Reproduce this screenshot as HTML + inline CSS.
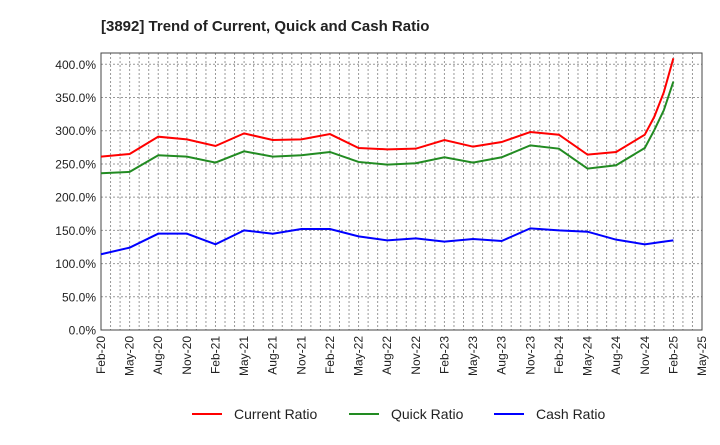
<!DOCTYPE html>
<html><head><meta charset="utf-8">
<style>
body{margin:0;background:#fff;font-family:"Liberation Sans",Arial,sans-serif;}
svg text{font-family:"Liberation Sans",Arial,sans-serif;}
</style></head>
<body>
<svg id="chart" width="720" height="440" viewBox="0 0 720 440" xmlns="http://www.w3.org/2000/svg">
<text x="101" y="31" font-size="15" font-weight="bold" fill="#222">[3892]  Trend of Current, Quick and Cash Ratio</text>
<g id="grid"></g><g id="axes"></g><g id="series"></g>
<g>
<line x1="192" y1="414" x2="222" y2="414" stroke="#ff0000" stroke-width="2"/><text x="234" y="419" font-size="14" fill="#222">Current Ratio</text>
<line x1="349" y1="414" x2="379" y2="414" stroke="#228b22" stroke-width="2"/><text x="391" y="419" font-size="14" fill="#222">Quick Ratio</text>
<line x1="494" y1="414" x2="524" y2="414" stroke="#0000ff" stroke-width="2"/><text x="536" y="419" font-size="14" fill="#222">Cash Ratio</text>
</g>
</svg>
<script>
const months=[0,3,6,9,12,15,18,21,24,27,30,33,36,39,42,45,48,51,54,57,58,59,60];
const currentRatio=[261,265,291,287,277,296,286,287,295,274,272,273,286,276,283,298,294,264,268,294,321,358,409];
const quickRatio=[236,238,263,261,252,269,261,263,268,253,249,251,260,252,260,278,273,243,248,274,301,331,374];
const cashRatio=[114,124,145,145,129,150,145,152,152,141,135,138,133,137,134,153,150,148,136,129,131,133,135];
const xLabels=["Feb-20","May-20","Aug-20","Nov-20","Feb-21","May-21","Aug-21","Nov-21","Feb-22","May-22","Aug-22","Nov-22","Feb-23","May-23","Aug-23","Nov-23","Feb-24","May-24","Aug-24","Nov-24","Feb-25","May-25"];
const yTicks=[0,50,100,150,200,250,300,350,400];
const L=101,R=702,T=53,B=330;
const xs=m=>L+m*(R-L)/63;
const ys=v=>B-v*(B-64.3)/400;
const NS="http://www.w3.org/2000/svg";
function mk(t,a,p){const e=document.createElementNS(NS,t);for(const k in a)e.setAttribute(k,a[k]);p.appendChild(e);return e;}
const grid=document.getElementById('grid'),axes=document.getElementById('axes'),ser=document.getElementById('series');
for(let m=1;m<63;m++){const g=mk('line',{x1:xs(m),x2:xs(m),y1:T,y2:B,stroke:'#999','stroke-width':1,'stroke-dasharray':'2,2'},grid);

}
yTicks.forEach(v=>{const y=ys(v);
const g=mk('line',{x1:L,x2:R,y1:y,y2:y,stroke:'#999','stroke-width':1,'stroke-dasharray':'2,2'},grid);


const t=mk('text',{x:L-5,y:y+4.5,'font-size':12,'text-anchor':'end',fill:'#222'},axes);t.textContent=v.toFixed(1)+'%';

});
xLabels.forEach((s,i)=>{const x=xs(i*3);
const t=mk('text',{transform:`translate(${x+4},${B+6}) rotate(-90)`,'font-size':12,'text-anchor':'end',fill:'#222'},axes);t.textContent=s;

});
const f=mk('rect',{x:L,y:T,width:R-L,height:B-T,fill:'none',stroke:'#444','stroke-width':1},axes);


[[currentRatio,'#ff0000','current-ratio-line'],[quickRatio,'#228b22','quick-ratio-line'],[cashRatio,'#0000ff','cash-ratio-line']].forEach(([d,c,n])=>{
const p=mk('polyline',{points:d.map((v,i)=>xs(months[i])+','+ys(v)).join(' '),fill:'none',stroke:c,'stroke-width':2},ser);

});
</script>
</body></html>
